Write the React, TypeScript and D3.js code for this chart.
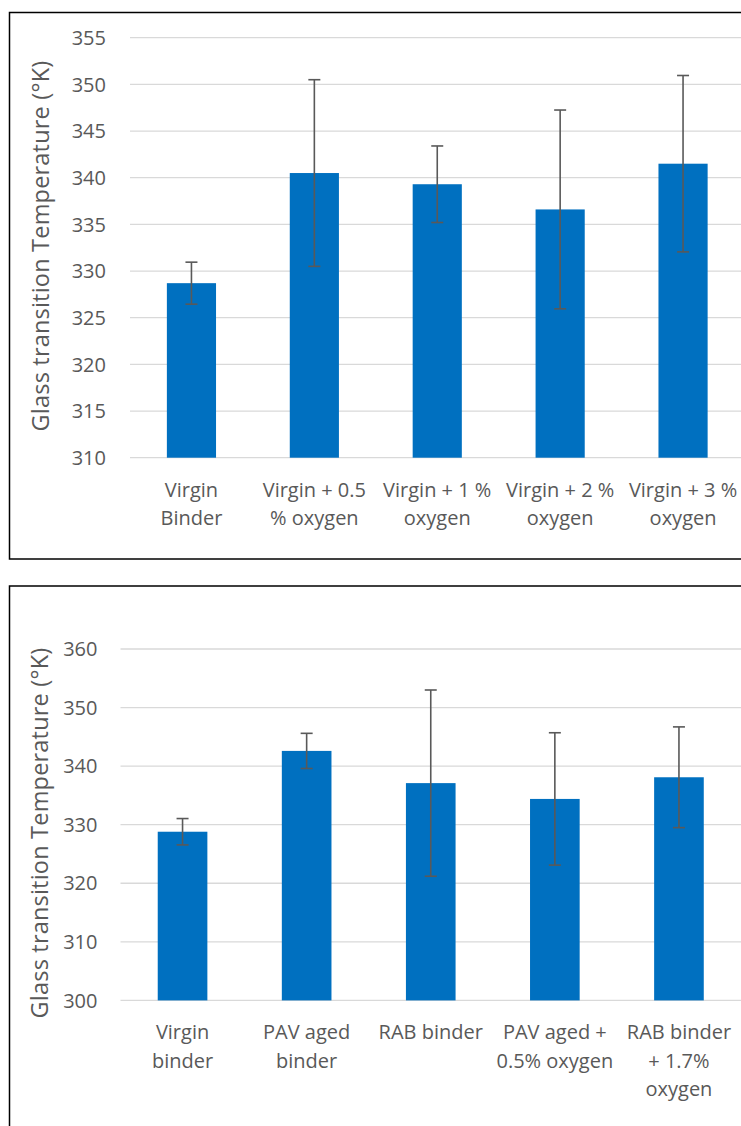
import * as d3 from 'd3';

// top chart: oxygen content on virgin binder
const oxyCategories = [
  ['Virgin', 'Binder'],
  ['Virgin + 0.5', '% oxygen'],
  ['Virgin + 1 %', 'oxygen'],
  ['Virgin + 2 %', 'oxygen'],
  ['Virgin + 3 %', 'oxygen'],
];
const oxyMeans = [328.7, 340.5, 339.3, 336.6, 341.5];
const oxyErrors = [2.25, 10.0, 4.1, 10.65, 9.45];
const oxyTicks = [310, 315, 320, 325, 330, 335, 340, 345, 350, 355];

// bottom chart: aged binders
const agedCategories = [
  ['Virgin', 'binder'],
  ['PAV aged', 'binder'],
  ['RAB binder'],
  ['PAV aged +', '0.5% oxygen'],
  ['RAB binder', '+ 1.7%', 'oxygen'],
];
const agedMeans = [328.8, 342.6, 337.1, 334.4, 338.1];
const agedErrors = [2.25, 3.0, 15.9, 11.3, 8.6];
const agedTicks = [300, 310, 320, 330, 340, 350, 360];

const yTitle = 'Glass transition Temperature (°K)';

const TEXT = '#595959';
const GRID = '#d9d9d9';
const BAR = '#0070c0';
const FONT = "'Open Sans', sans-serif";

interface PanelProps {
  categories: string[][];
  means: number[];
  errors: number[];
  ticks: number[];
  xRange: [number, number];
  yRange: [number, number];
  tickRight: number;
  titleX: number;
  titleY: number;
  box: { x: number; y: number; w: number; h: number };
}

const Panel = ({ categories, means, errors, ticks, xRange, yRange, tickRight, titleX, titleY, box }: PanelProps) => {
  const ids = categories.map((_, i) => String(i));
  const x = d3.scaleBand().domain(ids).range(xRange).paddingInner(0.6).paddingOuter(0.3);
  const y = d3.scaleLinear().domain([ticks[0], ticks[ticks.length - 1]]).range(yRange);
  const bw = x.bandwidth();
  const base = y(ticks[0]);

  return (
    <g>
      <rect x={box.x} y={box.y} width={box.w} height={box.h} fill="none" stroke="#000" strokeWidth={1.5} />
      {ticks.map((t) => (
        <g key={t}>
          <line x1={xRange[0]} x2={xRange[1]} y1={y(t)} y2={y(t)} stroke={GRID} strokeWidth={1.3} />
          <text x={tickRight} y={y(t)} dy="0.36em" textAnchor="end" fontSize={20} fill={TEXT} fontFamily={FONT}>
            {t}
          </text>
        </g>
      ))}
      {means.map((m, i) => {
        const cx = x(String(i))! + bw / 2;
        return (
          <g key={i}>
            <rect x={x(String(i))} y={y(m)} width={bw} height={base - y(m)} fill={BAR} />
            <line x1={cx} x2={cx} y1={y(m + errors[i])} y2={y(m - errors[i])} stroke={TEXT} strokeWidth={1.6} />
            <line x1={cx - 6} x2={cx + 6} y1={y(m + errors[i])} y2={y(m + errors[i])} stroke={TEXT} strokeWidth={1.6} />
            <line x1={cx - 6} x2={cx + 6} y1={y(m - errors[i])} y2={y(m - errors[i])} stroke={TEXT} strokeWidth={1.6} />
          </g>
        );
      })}
      {categories.map((lines, i) => (
        <text key={i} x={x(String(i))! + bw / 2} y={base + 39} textAnchor="middle" fontSize={20} fill={TEXT} fontFamily={FONT}>
          {lines.map((l, j) => (
            <tspan key={j} x={x(String(i))! + bw / 2} dy={j === 0 ? 0 : 28.5}>
              {l}
            </tspan>
          ))}
        </text>
      ))}
      <text
        transform={`translate(${titleX},${titleY}) rotate(-90)`}
        textAnchor="middle"
        fontSize={23.5}
        letterSpacing={0.2}
        fill={TEXT}
        fontFamily={FONT}
      >
        {yTitle}
      </text>
    </g>
  );
};

export default function App() {
  return (
    <svg width={741} height={1126} style={{ position: 'absolute', left: 0, top: 0, background: '#fff' }}>
      <Panel
        categories={oxyCategories}
        means={oxyMeans}
        errors={oxyErrors}
        ticks={oxyTicks}
        xRange={[130, 744.5]}
        yRange={[457.7, 37.7]}
        tickRight={106}
        titleX={49}
        titleY={246}
        box={{ x: 9.5, y: 12.5, w: 760, h: 546.5 }}
      />
      <Panel
        categories={agedCategories}
        means={agedMeans}
        errors={agedErrors}
        ticks={agedTicks}
        xRange={[120.5, 741]}
        yRange={[1000.4, 649]}
        tickRight={97.5}
        titleX={48}
        titleY={833}
        box={{ x: 9.5, y: 586, w: 760, h: 600 }}
      />
    </svg>
  );
}
